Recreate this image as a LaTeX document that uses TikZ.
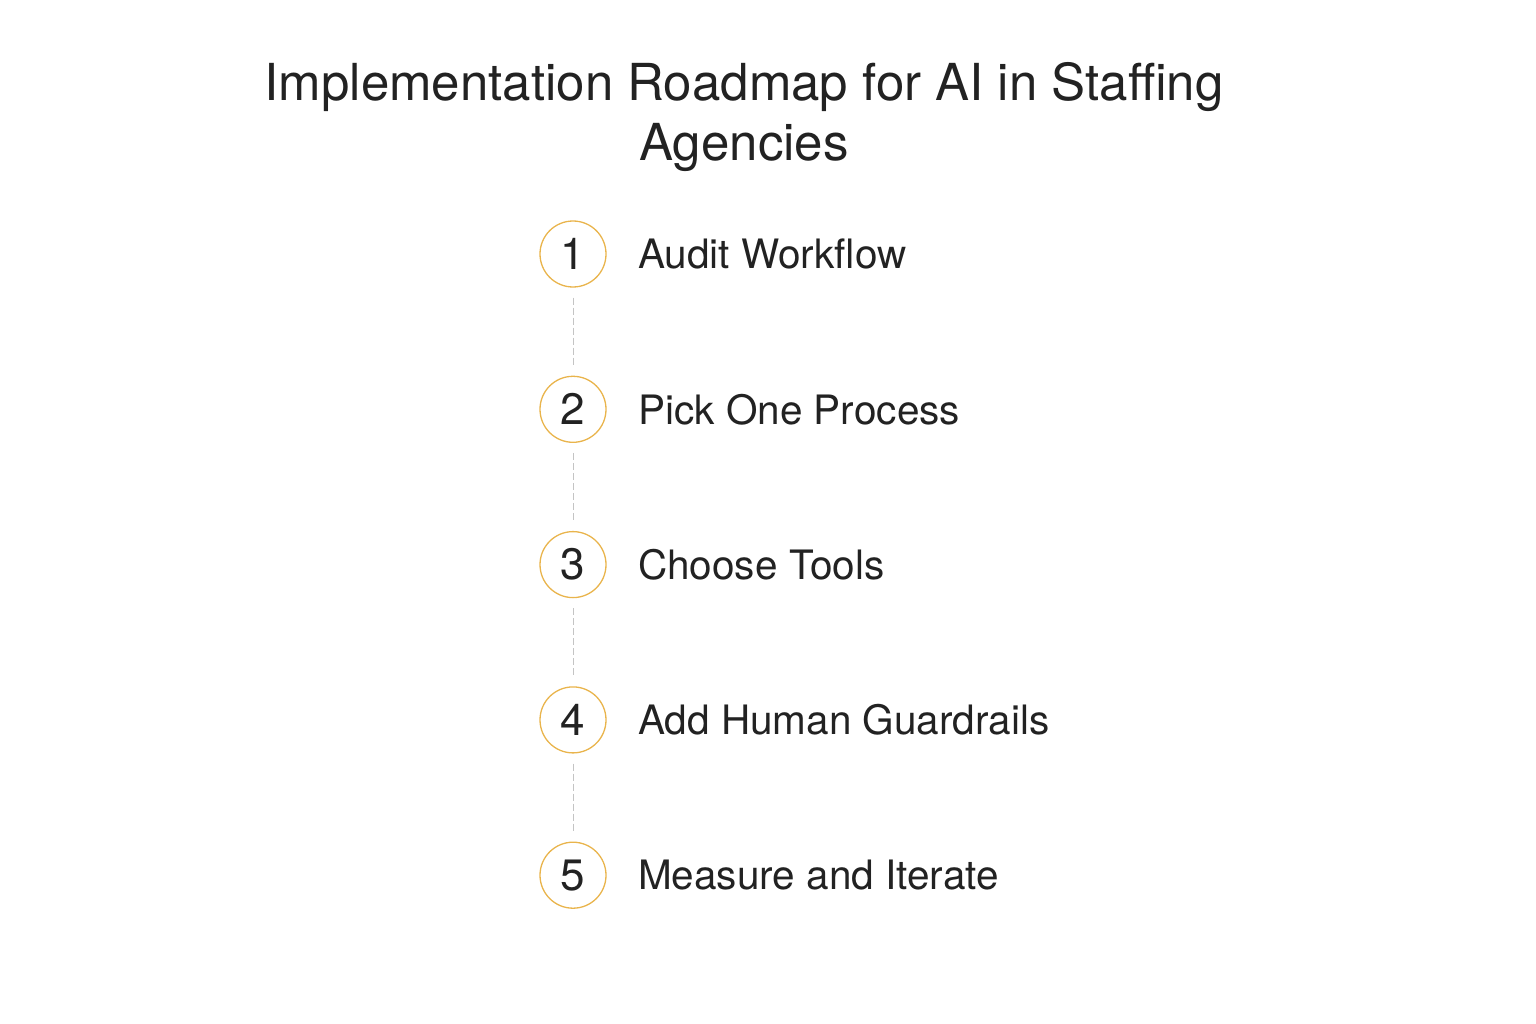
\documentclass[tikz,border=0pt]{standalone}
\usepackage{fontspec}
\setmainfont{TeX Gyre Heros}
\usetikzlibrary{positioning}
\definecolor{ringgold}{HTML}{E9B44C}
\definecolor{inkgray}{HTML}{222222}
\definecolor{linkgray}{HTML}{C4C4C4}

\begin{document}
\begin{tikzpicture}[
            x=1pt, y=-1pt,
            node distance=88pt,
            stepnum/.style={circle, draw=ringgold, line width=1.3pt, minimum size=66pt,
                inner sep=0pt, text=inkgray, font=\fontsize{44}{44}\selectfont},
            steplabel/.style={right=28pt of #1, text=inkgray, font=\fontsize{40.5}{48}\selectfont},
            link/.style={draw=linkgray, line width=1pt, dash pattern=on 7pt off 3pt,
                shorten <=10pt, shorten >=10pt}
            ]
        \useasboundingbox (0,0) rectangle (1536,1024);

        % Titolo
        \node[text=inkgray, align=center, font=\fontsize{51}{60}\selectfont] (title) at (744,117)
            {Implementation Roadmap for AI in Staffing\\Agencies};

        % Passi
        \node[stepnum] (n1) at (573,254) {1};
        \node[stepnum, below=of n1] (n2) {2};
        \node[stepnum, below=of n2] (n3) {3};
        \node[stepnum, below=of n3] (n4) {4};
        \node[stepnum, below=of n4] (n5) {5};

        \node[steplabel=n1] (l1) {Audit Workflow};
        \node[steplabel=n2] (l2) {Pick One Process};
        \node[steplabel=n3] (l3) {Choose Tools};
        \node[steplabel=n4] (l4) {Add Human Guardrails};
        \node[steplabel=n5] (l5) {Measure and Iterate};

        % Collegamenti tratteggiati
        \draw[link] (n1) -- (n2);
        \draw[link] (n2) -- (n3);
        \draw[link] (n3) -- (n4);
        \draw[link] (n4) -- (n5);
        \end{tikzpicture}
\end{document}
